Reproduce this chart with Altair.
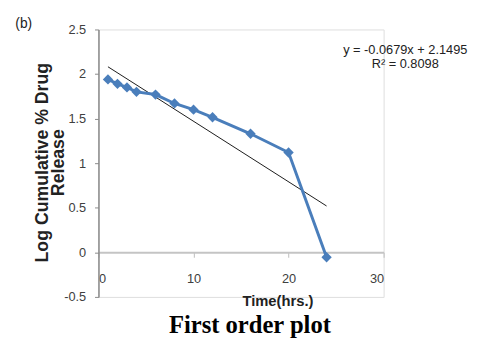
import altair as alt
import pandas as pd

# Data
time_hrs = [1, 2, 3, 4, 6, 8, 10, 12, 16, 20, 24]
log_release = [1.94, 1.89, 1.85, 1.80, 1.77, 1.67, 1.60, 1.515, 1.33, 1.12, -0.055]

# Trendline (as displayed): y = -0.0679x + 2.1495
trend_slope = -0.0679
trend_intercept = 2.1495
trend_x = [1, 24]

x_ticks = [0, 10, 20, 30]
y_ticks = [-0.5, 0, 0.5, 1, 1.5, 2, 2.5]

eq_lines = ["y = -0.0679x + 2.1495", "R² = 0.8098"]

df = pd.DataFrame({"t": time_hrs, "v": log_release})
trend_df = pd.DataFrame({"t": trend_x, "v": [trend_slope * t + trend_intercept for t in trend_x]})

W, H = 290, 272
FONT = "Liberation Sans"

x_scale = alt.Scale(domain=[0, 30], nice=False, zero=False)
y_scale = alt.Scale(domain=[-0.5, 2.5], nice=False, zero=False)

x_axis = alt.Axis(
    values=x_ticks, grid=False, offset=-(H * 0.5 / 3.0),
    domainColor="#c4c4c4", domainWidth=2, tickColor="#bdbdbd", tickSize=5,
    labelFont=FONT, labelFontSize=13, labelColor="#404040", labelPadding=16,
    title="Time(hrs.)", titleFont=FONT, titleFontSize=15, titleFontWeight="bold",
    titleColor="#222222", titleX=182, titleY=49, titleBaseline="middle",
    titleAlign="center",
)
y_axis = alt.Axis(
    values=y_ticks, grid=False, labelExpr="toString(datum.value)",
    domainColor="#8a8a8a", domainWidth=1.5, tickColor="#8a8a8a", tickSize=4,
    labelFont=FONT, labelFontSize=13, labelColor="#404040", labelPadding=9,
    title=["Log Cumulative % Drug", "Release"], titleFont=FONT, titleFontSize=18,
    titleFontWeight="bold", titleColor="#222222", titleAngle=-90,
    titleX=-57, titleY=135, titleBaseline="middle", titleAlign="center",
    titleLineHeight=16,
)

X = alt.X("t:Q", scale=x_scale, axis=x_axis)
Y = alt.Y("v:Q", scale=y_scale, axis=y_axis)

line = alt.Chart(df).mark_line(color="#4a7ebb", strokeWidth=3).encode(x=X, y=Y)
points = alt.Chart(df).mark_point(shape="diamond", filled=True, size=110, color="#4a7ebb", opacity=1).encode(x=X, y=Y)
trend = alt.Chart(trend_df).mark_line(color="#1a1a1a", strokeWidth=1).encode(x=X, y=Y)

def label(txt, x, y, **kw):
    return alt.Chart(pd.DataFrame({"txt": [txt]})).mark_text(
        align="center", baseline="middle", **kw
    ).encode(x=alt.value(x), y=alt.value(y), text="txt:N")

eq1 = label(eq_lines[0], 312, 21, font=FONT, fontSize=13, color="#222222")
eq2 = label(eq_lines[1], 312, 35, font=FONT, fontSize=13, color="#222222")
label_b = label("(b)", -76, -5, font=FONT, fontSize=14, color="#222222")
caption = label("First order plot", 154, 301, font="Liberation Serif", fontSize=25,
                fontWeight="bold", color="#000000")

chart = alt.layer(trend, line, points, eq1, eq2, label_b, caption).properties(
    width=W, height=H,
    autosize=alt.AutoSizeParams(type="none"),
    padding={"left": 92, "top": 19, "right": 96, "bottom": 42},
).configure_view(stroke=None).configure(background="white")

chart.save("out.html", embed_options={"renderer": "svg", "actions": False})
